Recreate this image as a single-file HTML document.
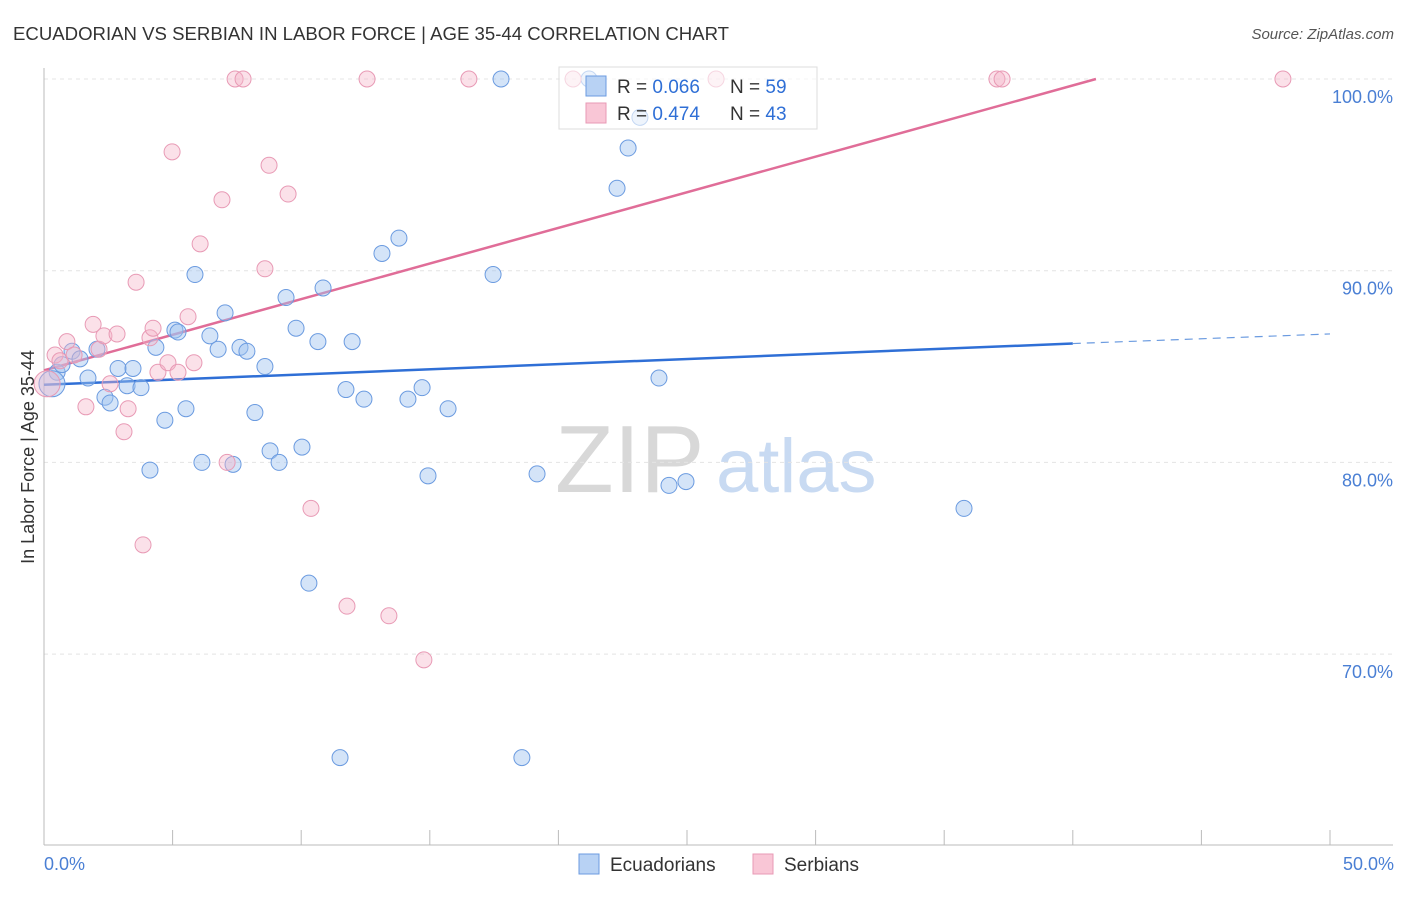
<!DOCTYPE html>
<html><head><meta charset="utf-8"><style>
body{margin:0;background:#fff;font-family:"Liberation Sans",sans-serif;}
svg text{font-family:"Liberation Sans",sans-serif;}
</style></head><body>
<svg id="chart" width="1406" height="892" xmlns="http://www.w3.org/2000/svg">
<text x="13" y="40" font-size="18.6" fill="#333">ECUADORIAN VS SERBIAN IN LABOR FORCE | AGE 35-44 CORRELATION CHART</text>
<text x="1394" y="39" font-size="15" fill="#555" text-anchor="end" font-style="italic">Source: ZipAtlas.com</text>
<g>
<text x="555" y="492" font-size="96" fill="#d8d8d8" font-family="Liberation Serif">ZIP</text>
<text x="716" y="492" font-size="76" fill="#c8daf2">atlas</text>
</g>
<g id="grid"></g>
<g id="axes"></g>
<g id="trends"></g>
<g id="points"></g>
<text transform="translate(34,457) rotate(-90)" font-size="18" fill="#333" text-anchor="middle">In Labor Force | Age 35-44</text>
<text x="44" y="870" font-size="18" fill="#4a7fd4">0.0%</text>
<text x="1394" y="870" font-size="18" fill="#4a7fd4" text-anchor="end">50.0%</text>
<g>
<rect x="559" y="67" width="258" height="62" fill="rgba(255,255,255,0.6)" stroke="#ddd"/>
<rect x="586" y="76" width="20" height="20" fill="#b8d2f4" stroke="#6b9be0"/>
<rect x="586" y="103" width="20" height="20" fill="#f9c6d6" stroke="#e89ab5"/>
<text x="617" y="93" font-size="19" fill="#333">R = <tspan fill="#2f6fd6">0.066</tspan></text>
<text x="730" y="93" font-size="19" fill="#333">N = <tspan fill="#2f6fd6">59</tspan></text>
<text x="617" y="120" font-size="19" fill="#333">R = <tspan fill="#2f6fd6">0.474</tspan></text>
<text x="730" y="120" font-size="19" fill="#333">N = <tspan fill="#2f6fd6">43</tspan></text>
</g>
<g>
<rect x="579" y="854" width="20" height="20" fill="#b8d2f4" stroke="#6b9be0"/>
<text x="610" y="871" font-size="19" fill="#333">Ecuadorians</text>
<rect x="753" y="854" width="20" height="20" fill="#f9c6d6" stroke="#e89ab5"/>
<text x="784" y="871" font-size="19" fill="#333">Serbians</text>
</g>
</svg>
<script>
const blueX=[0.51,0.31,0.70,1.09,1.40,1.71,2.06,2.37,2.57,2.88,3.23,3.46,3.77,4.12,4.35,4.70,5.09,5.21,5.52,5.87,6.14,6.45,6.77,7.04,7.35,7.62,7.89,8.20,8.59,8.79,9.14,9.41,9.80,10.03,10.30,10.65,10.85,11.51,11.74,11.98,12.44,13.14,13.80,14.15,14.70,14.93,15.71,17.46,17.77,18.58,19.17,21.19,22.28,22.71,23.17,23.91,24.30,24.96,35.77];
const blueY=[84.7,84.1,85.1,85.8,85.4,84.4,85.9,83.4,83.1,84.9,84.0,84.9,83.9,79.6,86.0,82.2,86.9,86.8,82.8,89.8,80.0,86.6,85.9,87.8,79.9,86.0,85.8,82.6,85.0,80.6,80.0,88.6,87.0,80.8,73.7,86.3,89.1,64.6,83.8,86.3,83.3,90.9,91.7,83.3,83.9,79.3,82.8,89.8,100,64.6,79.4,100,94.3,96.4,98.0,84.4,78.8,79.0,77.6];
const pinkX=[0.12,0.43,0.62,0.89,1.17,1.63,1.91,2.14,2.33,2.57,2.84,3.11,3.27,3.58,3.85,4.12,4.24,4.43,4.82,4.98,5.21,5.60,5.83,6.07,6.92,7.12,7.43,7.74,8.59,8.75,9.49,10.38,11.78,12.56,13.41,14.77,16.52,20.57,26.13,37.05,37.25,48.17];
const pinkY=[84.1,85.6,85.3,86.3,85.6,82.9,87.2,85.9,86.6,84.1,86.7,81.6,82.8,89.4,75.7,86.5,87.0,84.7,85.2,96.2,84.7,87.6,85.2,91.4,93.7,80.0,100,100,90.1,95.5,94.0,77.6,72.5,100,72.0,69.7,100,100,100,100,100,100];
const yTicks=[100,90,80,70];
const yTickLabels=["100.0%","90.0%","80.0%","70.0%"];
const blueTrend=[[0,84.05],[40,86.2],[50,86.7]];
const pinkTrend=[[0,84.8],[40.9,100]];
const NS="http://www.w3.org/2000/svg";
const X=v=>44+v*25.72, Y=v=>79+(100-v)*19.17;
function mk(p,t,a){const e=document.createElementNS(NS,t);for(const k in a)e.setAttribute(k,a[k]);p.appendChild(e);return e;}
const grid=document.getElementById('grid'),axes=document.getElementById('axes'),tr=document.getElementById('trends'),pts=document.getElementById('points');
yTicks.forEach((t,i)=>{const l=mk(grid,'line',{x1:44,x2:1393,y1:Y(t),y2:Y(t),stroke:'#e4e4e4','stroke-dasharray':'4,4'});

const tx=mk(grid,'text',{x:1393,y:Y(t)+24,'font-size':18,fill:'#4a7fd4','text-anchor':'end'});tx.textContent=yTickLabels[i];
});
mk(axes,'line',{x1:44,x2:44,y1:68,y2:845,stroke:'#bbb'});
mk(axes,'line',{x1:44,x2:1393,y1:845,y2:845,stroke:'#bbb'});
for(let v=5;v<=50;v+=5){const t=mk(axes,'line',{x1:X(v),x2:X(v),y1:830,y2:845,stroke:'#bbb'});}
blueX.forEach((x,i)=>{const c=mk(pts,'circle',{cx:X(x),cy:Y(blueY[i]),r:i==1?13:8,fill:'rgba(160,196,240,0.45)',stroke:'#6b9be0','stroke-width':1});
});
pinkX.forEach((x,i)=>{const c=mk(pts,'circle',{cx:X(x),cy:Y(pinkY[i]),r:i==0?13:8,fill:'rgba(245,180,200,0.4)',stroke:'#e89ab5','stroke-width':1});
});
let b=mk(tr,'line',{x1:X(blueTrend[0][0]),y1:Y(blueTrend[0][1]),x2:X(blueTrend[1][0]),y2:Y(blueTrend[1][1]),stroke:'#2f6fd6','stroke-width':2.5});

let bd=mk(tr,'line',{x1:X(blueTrend[1][0]),y1:Y(blueTrend[1][1]),x2:X(blueTrend[2][0]),y2:Y(blueTrend[2][1]),stroke:'#6b9be0','stroke-width':1.2,'stroke-dasharray':'8,6'});

let p=mk(tr,'line',{x1:X(pinkTrend[0][0]),y1:Y(pinkTrend[0][1]),x2:X(pinkTrend[1][0]),y2:Y(pinkTrend[1][1]),stroke:'#e06d98','stroke-width':2.5});

</script>
</body></html>
